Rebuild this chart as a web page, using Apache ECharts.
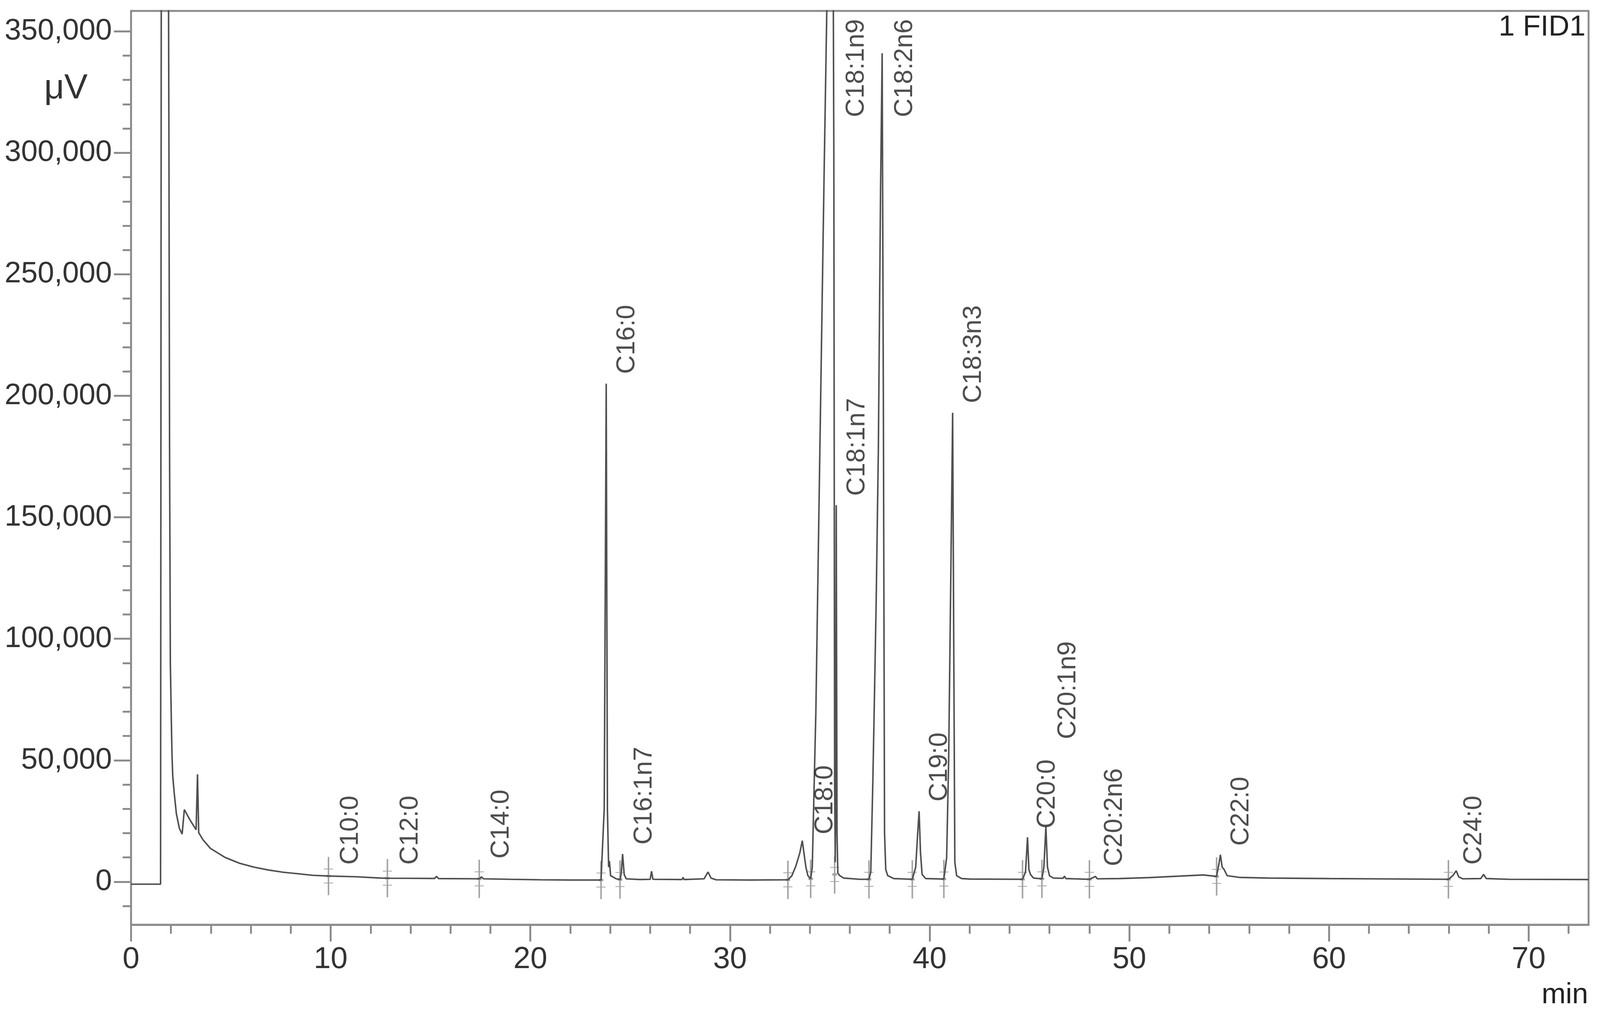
<!DOCTYPE html>
<html><head><meta charset="utf-8">
<script src="https://cdn.jsdelivr.net/npm/echarts@6/dist/echarts.min.js"></script>
<style>html,body{margin:0;padding:0;background:#fff;overflow:hidden}#c{width:100vw;height:100vh}</style>
</head><body><div id="c"></div>
<script>
// retention time (min)
const times = [
0,1.48,1.52,1.86,1.9,1.93,1.97,2.02,2.05,2.09,2.16,2.27,2.42,2.56,2.67,2.95,3.26,3.33,3.39,3.62,3.98,4.71,5.44,6.17,6.9,7.63,8.36,9.09,9.89,11.28,12.5,12.84,14.0,15.2,15.3,15.4,17.44,17.55,17.65,19.0,20.5,22.0,23.54,23.7,23.8,23.86,23.92,23.96,24.02,24.3,24.5,24.56,24.62,24.7,24.8,25.5,26.0,26.07,26.14,27.6,27.65,27.7,28.7,28.9,29.05,29.3,31.0,32.9,33.1,33.3,33.5,33.62,33.7,33.8,33.9,34.04,34.12,34.2,34.3,34.43,34.57,34.71,34.85,34.95,35.05,35.15,35.2,35.24,35.27,35.29,35.32,35.36,35.4,35.5,35.7,36.5,36.96,37.05,37.15,37.22,37.32,37.43,37.54,37.62,37.68,37.74,37.8,37.9,38.2,39.13,39.3,39.4,39.47,39.54,39.62,39.8,40.71,40.85,40.95,41.05,41.15,41.21,41.26,41.35,41.6,42.0,44.65,44.8,44.9,44.97,45.05,45.2,45.62,45.72,45.82,45.9,46.0,46.2,46.68,46.75,46.82,48.0,48.3,48.4,49.5,51.0,52.5,53.7,54.37,54.5,54.56,54.65,54.75,54.9,55.5,57.0,60.0,62.0,65.98,66.2,66.37,66.5,66.7,67.6,67.74,67.88,69.0,73.0
];
// detector signal (µV)
const signal = [
-1000,-1000,420000,420000,300000,180000,90000,66000,53000,43500,36800,28100,22000,19600,29700,25500,21400,44200,20200,17100,13700,10000,7600,6000,4800,3900,3300,2650,2350,2050,1500,1450,1400,1350,2200,1300,1200,2000,1200,1000,800,700,700,30000,205000,30000,6000,8500,2500,1200,900,4000,11400,3000,1200,900,1000,4300,1000,900,1800,900,1200,4000,1500,800,700,800,2500,6500,12000,16900,12000,6000,2500,1200,6000,35000,70000,140000,215000,290000,360000,420000,450000,420000,300000,40000,8000,30000,155000,20000,3500,2500,1500,1000,1000,4000,40000,70000,115000,178000,285000,341000,200000,20000,5000,2500,1300,1000,6000,20000,29000,12000,3000,1300,1100,10000,50000,120000,193000,90000,8000,2500,1300,1100,1000,4000,18300,5000,3000,1500,1200,6000,22700,6000,2500,1500,1400,2300,1300,1000,2200,1200,1300,1700,2300,2800,2200,8000,11100,6000,5000,2500,1800,1500,1300,1200,1000,2500,4500,2000,1200,1300,3000,1300,1000,900
];
// peak labels
const peakNames = ['C10:0','C12:0','C14:0','C16:0','C16:1n7','C18:0','C18:1n9','C18:1n7','C18:2n6','C19:0','C18:3n3','C20:0','C20:1n9','C20:2n6','C22:0','C24:0'];
const peakLabelTimes = [11.0,14.0,18.55,24.85,25.71,34.78,36.33,36.37,38.76,40.5,42.2,45.91,46.94,49.27,55.6,67.26];
const peakLabelLevels = [7000,7000,9500,209000,15300,19500,314700,158800,314700,33000,197000,21900,58700,6400,14800,7000];
// integration marks
const markerTimes = [9.89,12.84,17.44,23.54,24.49,32.9,34.04,35.24,36.96,39.13,40.71,44.65,45.62,48.0,54.37,65.98];
const markerLevels = [2350,1450,1200,700,900,800,1200,3000,1000,1000,1100,1000,1200,1000,2200,1000];
// axis ticks
const xTicks = [0,10,20,30,40,50,60,70];
const yTicks = [0,50000,100000,150000,200000,250000,300000,350000];

const FONT = '"Liberation Sans", Arial, sans-serif';
const AX = '#8c8c8c';

const el = document.getElementById('c');
const W = el.clientWidth || window.innerWidth || 4201;
const H = el.clientHeight || window.innerHeight || 2594;
const sx = W / 4201, sy = H / 2594, s = Math.min(sx, sy);
const px = v => v * sx, py = v => v * sy, fs = v => v * s;

const chart = echarts.init(el, null, {renderer:'canvas', width:W, height:H});
chart.setOption({
  animation: false,
  backgroundColor: '#fff',
  grid: {left:px(344), right:px(30), top:py(28), bottom:py(226), show:true, borderColor:AX, borderWidth:fs(5), backgroundColor:'transparent'},
  xAxis: {
    type:'value', min:0, max:73, interval:10,
    axisLine:{show:true, onZero:false, lineStyle:{color:AX, width:fs(5)}},
    axisTick:{show:true, length:py(43), inside:false, lineStyle:{color:AX, width:fs(5)}, customValues:xTicks},
    minorTick:{show:true, splitNumber:5, length:py(23), lineStyle:{color:AX, width:fs(5)}},
    splitLine:{show:false},
    axisLabel:{show:true, customValues:xTicks, margin:py(50), fontSize:fs(80), fontFamily:FONT, color:'#333',
      formatter: v => (v % 10 === 0 && v <= 70) ? String(v) : ''}
  },
  yAxis: {
    type:'value', min:-17700, max:358400, minInterval:50000, maxInterval:50000, splitNumber:7,
    axisLine:{show:true, onZero:false, lineStyle:{color:AX, width:fs(5)}},
    axisTick:{show:true, length:px(45), inside:false, lineStyle:{color:AX, width:fs(5)}, customValues:yTicks},
    minorTick:{show:true, splitNumber:5, length:px(22), lineStyle:{color:AX, width:fs(5)}},
    splitLine:{show:false},
    axisLabel:{show:true, customValues:yTicks, margin:px(50), fontSize:fs(78), fontFamily:FONT, color:'#333',
      formatter: v => (v % 50000 === 0 && v >= 0 && v <= 350000) ? v.toLocaleString('en-US') : ''}
  },
  series: [
    {
      type:'line', data: times.map((t,i)=>[t, signal[i]]), showSymbol:false, symbol:'none',
      clip:true, lineStyle:{color:'#505050', width:fs(4)}, z:3, silent:true
    },
    {
      type:'scatter', data: markerTimes.map((t,i)=>[t, markerLevels[i]]),
      symbol:'path://M9,0h2v98h-2z M4,30h12v2h-12z M4,66h12v2h-12z M7,46h6v6h-6z',
      symbolSize:[px(24), py(98)], itemStyle:{color:'#8c8c8c'}, z:2, silent:true
    },
    {
      type:'scatter', data: peakNames.map((n,i)=>({name:n, value:[peakLabelTimes[i], peakLabelLevels[i]]})),
      symbolSize:1, itemStyle:{color:'rgba(0,0,0,0)'}, z:4, silent:true,
      label:{show:true, position:'inside', rotate:90, align:'left', verticalAlign:'middle', distance:0,
        formatter: p => p.name, fontSize:fs(68), fontFamily:FONT, color:'#222'}
    }
  ],
  graphic: [
    {type:'text', x:px(173), y:py(227), style:{text:'μV', fontSize:fs(92), fontFamily:FONT, fill:'#333', align:'center', verticalAlign:'middle'}},
    {type:'text', x:px(4163), y:py(71), style:{text:'1 FID1', fontSize:fs(76), fontFamily:FONT, fill:'#222', align:'right', verticalAlign:'middle'}},
    {type:'text', x:px(4170), y:py(2549), style:{text:'min', fontSize:fs(76), fontFamily:FONT, fill:'#222', align:'right', verticalAlign:'middle'}}
  ]
});
</script>
</body></html>
